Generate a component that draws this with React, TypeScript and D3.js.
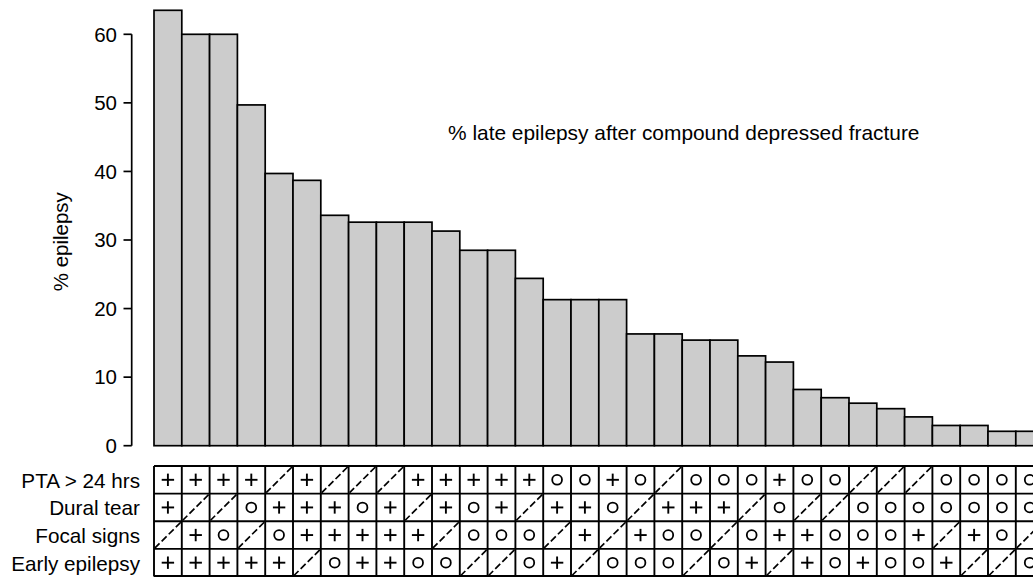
import React from 'react';
import * as d3 from 'd3';

// % late epilepsy per group, sorted high to low
const epilepsyPct = [
    63.5, 60, 60, 49.7, 39.7, 38.7, 33.6, 32.6, 32.6, 32.6, 31.3, 28.5, 28.5, 24.4, 21.3, 21.3,
    21.3, 16.3, 16.3, 15.4, 15.4, 13.1, 12.2, 8.2, 7.0, 6.2, 5.4, 4.2, 2.95, 2.95, 2.1, 2.1
];

// factor codes per group: "+" present, "o" absent, "/" unknown
const ptaOver24 = ["+", "+", "+", "+", "/", "+", "/", "/", "/", "+", "+", "+", "+", "+", "o", "o",
    "+", "o", "/", "o", "o", "o", "+", "o", "o", "/", "/", "/", "o", "o", "o", "o"];
const duralTear = ["+", "/", "/", "o", "+", "+", "+", "o", "+", "/", "+", "o", "+", "/", "+", "+",
    "o", "/", "+", "+", "+", "/", "o", "/", "/", "o", "o", "o", "o", "o", "o", "o"];
const focalSigns = ["/", "+", "o", "/", "o", "+", "+", "+", "+", "+", "/", "o", "o", "o", "/", "+",
    "/", "+", "o", "o", "/", "o", "+", "+", "o", "o", "o", "+", "/", "+", "o", "/"];
const earlyEpilepsy = ["+", "+", "+", "+", "+", "/", "o", "+", "+", "o", "o", "/", "/", "o", "+", "/",
    "o", "o", "o", "/", "o", "+", "/", "+", "o", "+", "o", "o", "+", "/", "/", "o"];

const rowLabels = ["PTA > 24 hrs", "Dural tear", "Focal signs", "Early epilepsy"];
const rows = [ptaOver24, duralTear, focalSigns, earlyEpilepsy];
const yTicks = [0, 10, 20, 30, 40, 50, 60];

const title = "% late epilepsy after compound depressed fracture";
const yLabel = "% epilepsy";

const W = 1033, H = 577;
const FONT = '"Liberation Sans", Arial, Helvetica, sans-serif';

function Cell({ code, x, y, w, h }) {
    const cx = x + w / 2, cy = y + h / 2;
    if (code === "+") {
        return (
            <g stroke="#000" strokeWidth={1.9}>
                <line x1={cx - 6.2} x2={cx + 6.2} y1={cy} y2={cy} />
                <line x1={cx} x2={cx} y1={cy - 6.2} y2={cy + 6.2} />
            </g>
        );
    }
    if (code === "o") {
        return <circle cx={cx} cy={cy} r={4.9} fill="none" stroke="#000" strokeWidth={1.8} />;
    }
    return <line x1={x + w - 1} y1={y + 1} x2={x + 1} y2={y + h - 1} stroke="#000" strokeWidth={1.7} strokeDasharray="7,3" />;
}

function App() {
    const x = d3.scaleBand().domain(d3.range(epilepsyPct.length)).range([154, 154 + 27.8 * epilepsyPct.length]).padding(0);
    const y = d3.scaleLinear().domain([0, 60]).range([445.7, 34.3]);
    const rowY = d3.scaleBand().domain(rowLabels).range([466, 576.5]).padding(0);
    const bw = x.bandwidth();
    const rh = rowY.bandwidth();
    const tableRight = x.range()[1];

    return (
        <svg width={W} height={H} style={{ position: 'absolute', left: 0, top: 0, background: '#fff' }} fontFamily={FONT}>
            {/* y axis */}
            <line x1={131.7} x2={131.7} y1={y(0)} y2={y(60)} stroke="#000" strokeWidth={1.7} />
            {yTicks.map(t => (
                <g key={t}>
                    <line x1={123.5} x2={131.7} y1={y(t)} y2={y(t)} stroke="#000" strokeWidth={1.7} />
                    <text x={117} y={y(t) + 7.3} textAnchor="end" fontSize={20.5}>{t}</text>
                </g>
            ))}
            <text transform="translate(68,241.7) rotate(-90)" textAnchor="middle" fontSize={20.5}>{yLabel}</text>

            {/* bars */}
            {epilepsyPct.map((v, i) => (
                <rect key={i} x={x(i)} y={y(v)} width={bw} height={y(0) - y(v)}
                    fill="#cccccc" stroke="#000" strokeWidth={1.7} />
            ))}

            <text x={448} y={140} fontSize={20.9}>{title}</text>

            {/* factor table */}
            {rowLabels.map((lab, r) => (
                <text key={lab} x={140} y={rowY(lab) + rh / 2 + 8} textAnchor="end" fontSize={20.7}>{lab}</text>
            ))}
            {rows.map((row, r) => row.map((code, i) => (
                <Cell key={r + '-' + i} code={code} x={x(i)} y={rowY(rowLabels[r])} w={bw} h={rh} />
            )))}
            <g stroke="#000" strokeWidth={1.9} fill="none">
                {rowLabels.map(lab => (
                    <line key={lab} x1={154} x2={tableRight} y1={rowY(lab)} y2={rowY(lab)} />
                ))}
                <line x1={154} x2={tableRight} y1={576} y2={576} />
                {d3.range(epilepsyPct.length + 1).map(i => (
                    <line key={i} x1={154 + i * bw} x2={154 + i * bw} y1={466} y2={576.5} />
                ))}
            </g>
        </svg>
    );
}

export default App;
